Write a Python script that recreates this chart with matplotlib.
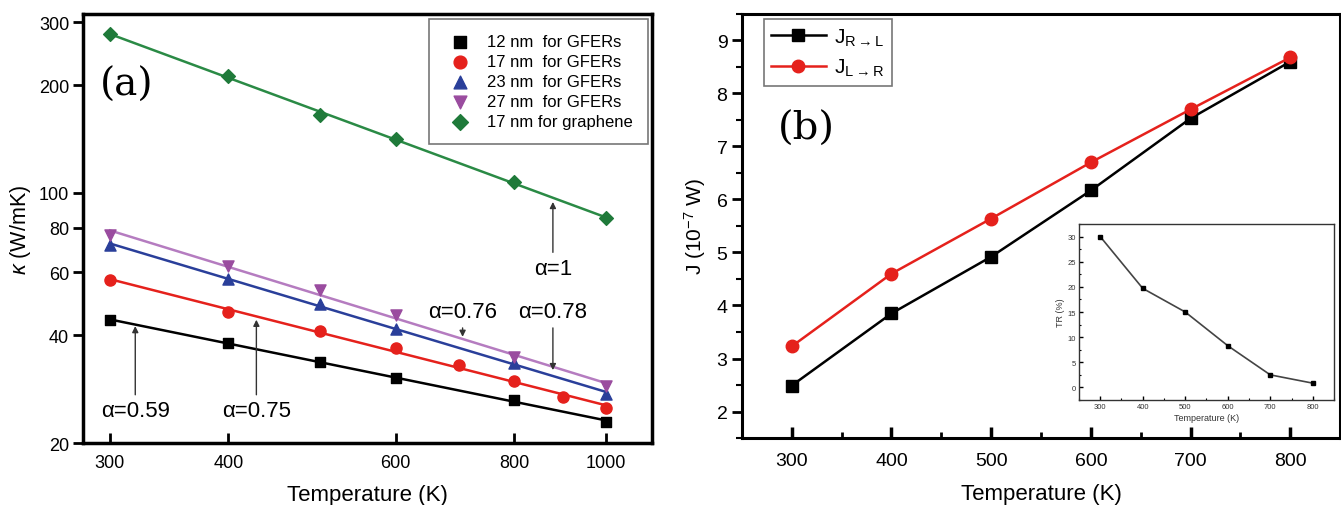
import numpy as np
import matplotlib
matplotlib.use("Agg")
import matplotlib.pyplot as plt
from matplotlib.ticker import FixedLocator, NullLocator, NullFormatter, MultipleLocator

plt.rcParams['font.family'] = ['Liberation Sans', 'DejaVu Sans']
plt.rcParams['mathtext.fontset'] = 'custom'
plt.rcParams['mathtext.rm'] = 'Liberation Sans'
plt.rcParams['mathtext.it'] = 'Liberation Sans:italic'

# ---------------- Panel (a) data ----------------
T_a = [300, 400, 500, 600, 800, 1000]
k12 = [44.1, 38.0, 33.7, 30.4, 26.4, 22.9]
T_17 = [300, 400, 500, 600, 700, 800, 900, 1000]
k17 = [57.0, 46.4, 41.1, 36.8, 33.0, 29.8, 26.9, 25.1]
k23 = [71.5, 57.4, 48.9, 41.6, 33.5, 27.4]
k27 = [76.2, 62.4, 53.5, 45.6, 34.8, 28.9]
k_gr = [277.8, 211.9, 164.9, 141.3, 107.2, 85.1]
labels_a = ["12 nm  for GFERs", "17 nm  for GFERs", "23 nm  for GFERs",
            "27 nm  for GFERs", "17 nm for graphene"]
yticks_a = [20, 40, 60, 80, 100, 200, 300]
xticks_a = [300, 400, 600, 800, 1000]

# ---------------- Panel (b) data ----------------
T_b = [300, 400, 500, 600, 700, 800]
J_RL = [2.49, 3.85, 4.92, 6.17, 7.53, 8.60]
J_LR = [3.23, 4.60, 5.64, 6.70, 7.70, 8.68]
TR = [30.0, 19.7, 15.0, 8.3, 2.5, 0.85]

fig = plt.figure(figsize=(13.41, 5.06), dpi=100)

# ================= Panel (a) =================
axa = fig.add_axes([0.0619, 0.1225, 0.4243, 0.8479])
axa.set_xscale('log')
axa.set_yscale('log')

series = [
    (T_a, k12, 's', 'black', 'black', labels_a[0], 7),
    (T_17, k17, 'o', '#e5211c', '#e5211c', labels_a[1], 8),
    (T_a, k23, '^', '#2a3f9a', '#2a3f9a', labels_a[2], 8),
    (T_a, k27, 'v', '#9a4c9f', '#b57cc0', labels_a[3], 8),
    (T_a, k_gr, 'D', '#1f7a3a', '#2a8a45', labels_a[4], 7),
]
handles = []
xfit = np.array([300, 1000])
for x, y, m, mc, lc, lab, ms in series:
    p = np.polyfit(np.log10(x), np.log10(y), 1)
    axa.plot(xfit, 10 ** np.polyval(p, np.log10(xfit)), color=lc, lw=1.8, zorder=2)
    h = axa.scatter(x, y, marker=m, color=mc, s=ms ** 2, zorder=3, label=lab)
    handles.append(h)

axa.set_xlim(281, 1118)
axa.set_ylim(20, 316)
axa.xaxis.set_major_locator(FixedLocator(xticks_a))
axa.xaxis.set_minor_locator(NullLocator())
axa.xaxis.set_minor_formatter(NullFormatter())
axa.set_xticklabels([str(v) for v in xticks_a])
axa.yaxis.set_major_locator(FixedLocator(yticks_a))
axa.yaxis.set_minor_locator(NullLocator())
axa.yaxis.set_minor_formatter(NullFormatter())
axa.set_yticklabels([str(v) for v in yticks_a])
axa.tick_params(axis='x', direction='in', length=7, width=2, labelsize=13, pad=8)
axa.tick_params(axis='y', direction='out', length=7, width=2, labelsize=13, pad=3)
for s in axa.spines.values():
    s.set_linewidth(2.5)
axa.set_xlabel('Temperature (K)', fontsize=16, labelpad=9)
axa.set_ylabel(r'$\kappa$ (W/mK)', fontsize=15.5, labelpad=4)

leg = axa.legend(handles=handles, loc='upper right', fontsize=12, frameon=True,
                 fancybox=False, edgecolor='#777777', framealpha=1,
                 handletextpad=0.6, borderpad=0.9, labelspacing=0.3,
                 markerscale=1.15, borderaxespad=0,
                 bbox_to_anchor=(0.9925, 0.988))
leg.get_frame().set_linewidth(1.2)

axa.text(0.03, 0.837, '(a)', transform=axa.transAxes, fontsize=28,
         family=['DejaVu Serif'], fontweight='light', va='center')

arw = dict(arrowstyle='-|>', color='#333333', lw=1.0, mutation_scale=9)
axa.annotate('α=0.59', xy=(319, 43.2), xytext=(319, 24.6), fontsize=16,
             ha='center', va='center', arrowprops=arw)
axa.annotate('α=0.75', xy=(428, 45.0), xytext=(428, 24.6), fontsize=16,
             ha='center', va='center', arrowprops=arw)
axa.annotate('α=0.76', xy=(706, 38.9), xytext=(706, 46.5), fontsize=16,
             ha='center', va='center', arrowprops=arw)
axa.annotate('α=0.78', xy=(879, 31.4), xytext=(879, 46.5), fontsize=16,
             ha='center', va='center', arrowprops=arw)
axa.annotate('α=1', xy=(879, 96), xytext=(879, 61.5), fontsize=16,
             ha='center', va='center', arrowprops=arw)

# ================= Panel (b) =================
axb = fig.add_axes([0.5533, 0.1324, 0.446, 0.838])
axb.plot(T_b, J_RL, color='black', marker='s', ms=8, lw=1.8,
         label=r'J$_{\mathregular{R\rightarrow L}}$')
axb.plot(T_b, J_LR, color='#e5211c', marker='o', ms=9, lw=1.8,
         label=r'J$_{\mathregular{L\rightarrow R}}$')
axb.set_xlim(250, 850)
axb.set_ylim(1.5, 9.5)
axb.xaxis.set_major_locator(MultipleLocator(100))
axb.xaxis.set_minor_locator(MultipleLocator(50))
axb.yaxis.set_major_locator(MultipleLocator(1))
axb.yaxis.set_minor_locator(MultipleLocator(0.5))
axb.tick_params(axis='x', which='major', direction='in', length=8, width=2.5,
                labelsize=14, pad=10)
axb.tick_params(axis='x', which='minor', direction='in', length=4, width=2)
axb.tick_params(axis='y', which='major', direction='out', length=7, width=2,
                labelsize=14)
axb.tick_params(axis='y', which='minor', direction='out', length=4, width=1.5)
for s in axb.spines.values():
    s.set_linewidth(2.2)
axb.set_xlabel('Temperature (K)', fontsize=16, labelpad=10)
axb.set_ylabel(r'J (10$^{\mathregular{-7}}$ W)', fontsize=15, labelpad=6)
legb = axb.legend(loc='upper left', fontsize=15, frameon=True, fancybox=False,
                  edgecolor='#777777', framealpha=1, handlelength=2.6,
                  handletextpad=0.4, borderpad=0.35, labelspacing=0.45,
                  borderaxespad=0, bbox_to_anchor=(0.037, 0.988))
legb.get_frame().set_linewidth(1.2)
axb.text(0.06, 0.73, '(b)', transform=axb.transAxes, fontsize=29,
         family=['DejaVu Serif'], fontweight='light', va='center')

# ---------------- Inset ----------------
axi = fig.add_axes([0.8046, 0.2075, 0.1902, 0.3478])
axi.plot(T_b, TR, color='#444444', lw=1.2, marker='s', ms=3.5,
         mfc='black', mec='black')
axi.set_xlim(250, 850)
axi.set_ylim(-2.5, 32.5)
axi.xaxis.set_major_locator(MultipleLocator(100))
axi.xaxis.set_minor_locator(MultipleLocator(50))
axi.yaxis.set_major_locator(MultipleLocator(5))
axi.yaxis.set_minor_locator(MultipleLocator(2.5))
axi.tick_params(axis='both', which='major', direction='in', length=3, width=1,
                labelsize=5.5, pad=2, labelcolor='#333333')
axi.tick_params(axis='both', which='minor', direction='in', length=1.5, width=0.8)
for s in axi.spines.values():
    s.set_linewidth(1.0)
    s.set_color('#333333')
axi.set_xlabel('Temperature (K)', fontsize=6.5, labelpad=2, color='#333333')
axi.set_ylabel('TR (%)', fontsize=6.5, labelpad=2, color='#333333')

fig.savefig('out.png', dpi=100)
